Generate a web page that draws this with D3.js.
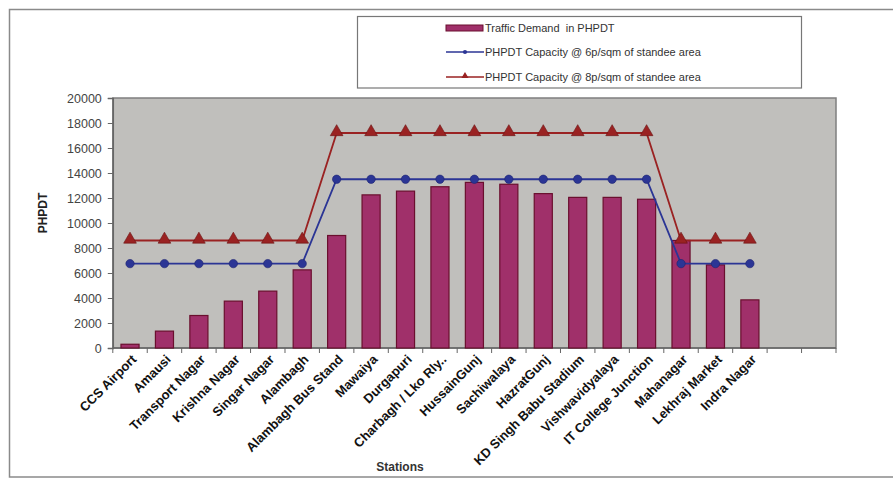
<!DOCTYPE html>
<html>
<head>
<meta charset="utf-8">
<script src="https://cdn.jsdelivr.net/npm/d3@7"></script>
<style>
  html, body { margin: 0; padding: 0; background: #ffffff; }
  svg { display: block; font-family: "Liberation Sans", Arial, sans-serif; }
</style>
</head>
<body>
<svg id="chart" width="893" height="479"></svg>
<script>
// ---------- data ----------
const stations = ["CCS Airport", "Amausi", "Transport Nagar", "Krishna Nagar", "Singar Nagar",
  "Alambagh", "Alambagh Bus Stand", "Mawaiya", "Durgapuri", "Charbagh / Lko Rly..",
  "HussainGunj", "Sachiwalaya", "HazratGunj", "KD Singh Babu Stadium", "Vishwavidyalaya",
  "IT College Junction", "Mahanagar", "Lekhraj Market", "Indra Nagar"];
const emptySlots = ["_blank1", "_blank2"];
const demand = [300, 1350, 2600, 3750, 4550, 6250, 9000, 12250, 12550, 12900,
  13250, 13100, 12350, 12050, 12050, 11900, 8600, 6650, 3850];
const capacity6 = [6750, 6750, 6750, 6750, 6750, 6750, 13500, 13500, 13500, 13500,
  13500, 13500, 13500, 13500, 13500, 13500, 6750, 6750, 6750];
const capacity8 = [8600, 8600, 8600, 8600, 8600, 8600, 17200, 17200, 17200, 17200,
  17200, 17200, 17200, 17200, 17200, 17200, 8600, 8600, 8600];
const yTicks = [0, 2000, 4000, 6000, 8000, 10000, 12000, 14000, 16000, 18000, 20000];
const legendLabels = ["Traffic Demand  in PHPDT",
  "PHPDT Capacity @ 6p/sqm of standee area",
  "PHPDT Capacity @ 8p/sqm of standee area"];
const yTitle = "PHPDT";
const xTitle = "Stations";

// ---------- layout ----------
const svg = d3.select("#chart");
const plot = { left: 112.8, right: 836, top: 98, bottom: 348 };
const colors = { bar: "#a0306a", barStroke: "#6a0f2e", blue: "#2b3595", red: "#9a2222",
  plotBg: "#c0bfbc", plotBorder: "#7f7f7f", frame: "#8a8a8a" };

// outer frame
svg.append("rect").attr("x", 9.5).attr("y", 9.5).attr("width", 893).attr("height", 467.5)
  .attr("fill", "none").attr("stroke", colors.frame).attr("stroke-width", 1.5);

const x = d3.scaleBand().domain(stations.concat(emptySlots)).range([plot.left, plot.right]).padding(0);
const y = d3.scaleLinear().domain([0, 20000]).range([plot.bottom, plot.top]);
const barW = x.bandwidth() * 0.525;
const cx = s => x(s) + x.bandwidth() / 2;

// plot area
svg.append("rect").attr("x", plot.left).attr("y", plot.top)
  .attr("width", plot.right - plot.left).attr("height", plot.bottom - plot.top)
  .attr("fill", colors.plotBg).attr("stroke", colors.plotBorder).attr("stroke-width", 1.5);

// y axis
const yAxis = d3.axisLeft(y).tickValues(yTicks).tickSize(5).tickPadding(6).tickFormat(d3.format("d"));
const gy = svg.append("g").attr("transform", `translate(${plot.left},0)`).call(yAxis);
gy.select(".domain").attr("stroke", "#666").attr("stroke-width", 1.5);
gy.selectAll(".tick line").attr("stroke", "#666");
gy.selectAll(".tick text").attr("font-size", 12.5).attr("fill", "#444")
  .attr("font-family", "Liberation Sans, Arial, sans-serif");

// x axis (ticks on category boundaries)
const gx = svg.append("g").attr("transform", `translate(0,${plot.bottom})`);
gx.append("line").attr("x1", plot.left).attr("x2", plot.right).attr("y1", 0).attr("y2", 0)
  .attr("stroke", "#666").attr("stroke-width", 1.5);
const boundaries = x.domain().map(d => x(d)).concat([plot.right]);
gx.selectAll("line.tk").data(boundaries).enter().append("line").attr("class", "tk")
  .attr("x1", d => d).attr("x2", d => d).attr("y1", 0).attr("y2", 5).attr("stroke", "#666");
gx.selectAll("text.lbl").data(stations).enter().append("text").attr("class", "lbl")
  .attr("transform", d => `translate(${cx(d) + 4},${9}) rotate(-45)`)
  .attr("text-anchor", "end").attr("dy", "0.35em")
  .attr("font-size", 13).attr("font-weight", "bold").attr("fill", "#111")
  .text(d => d);

// bars
svg.append("g").selectAll("rect").data(stations).enter().append("rect")
  .attr("x", (d) => cx(d) - barW / 2)
  .attr("y", (d, i) => y(demand[i]))
  .attr("width", barW)
  .attr("height", (d, i) => plot.bottom - y(demand[i]))
  .attr("fill", colors.bar).attr("stroke", colors.barStroke).attr("stroke-width", 1.2);

// lines
const line = vals => d3.line().x((d, i) => cx(stations[i])).y(d => y(d))(vals);
svg.append("path").attr("d", line(capacity8)).attr("fill", "none").attr("stroke", colors.red).attr("stroke-width", 1.8);
svg.append("path").attr("d", line(capacity6)).attr("fill", "none").attr("stroke", colors.blue).attr("stroke-width", 1.8);
const tri = d3.symbol().type(d3.symbolTriangle).size(70);
const dot = d3.symbol().type(d3.symbolCircle).size(55);
svg.append("g").selectAll("path").data(capacity8).enter().append("path")
  .attr("d", tri).attr("transform", (d, i) => `translate(${cx(stations[i])},${y(d) - 1})`)
  .attr("fill", colors.red).attr("stroke", "#6a1010").attr("stroke-width", 0.6);
svg.append("g").selectAll("path").data(capacity6).enter().append("path")
  .attr("d", dot).attr("transform", (d, i) => `translate(${cx(stations[i])},${y(d)})`)
  .attr("fill", colors.blue).attr("stroke", "#1c2470").attr("stroke-width", 0.6);

// axis titles
svg.append("text").attr("transform", `translate(47,${(plot.top + plot.bottom) / 2 - 10}) rotate(-90)`)
  .attr("text-anchor", "middle").attr("font-size", 12).attr("font-weight", "bold").attr("fill", "#222")
  .text(yTitle);
svg.append("text").attr("x", 400).attr("y", 471).attr("text-anchor", "middle")
  .attr("font-size", 12).attr("font-weight", "bold").attr("fill", "#333").text(xTitle);

// legend
const lg = svg.append("g");
lg.append("rect").attr("x", 357.5).attr("y", 16.5).attr("width", 444).attr("height", 71.5)
  .attr("fill", "#fff").attr("stroke", "#777").attr("stroke-width", 1.2);
const ly = [28, 52, 77];
lg.append("rect").attr("x", 446).attr("y", ly[0] - 3).attr("width", 37).attr("height", 6)
  .attr("fill", colors.bar).attr("stroke", colors.barStroke).attr("stroke-width", 1);
lg.append("line").attr("x1", 446).attr("x2", 484).attr("y1", ly[1]).attr("y2", ly[1]).attr("stroke", colors.blue).attr("stroke-width", 1.5);
lg.append("path").attr("d", d3.symbol().type(d3.symbolCircle).size(14)).attr("transform", `translate(465,${ly[1]})`).attr("fill", colors.blue);
lg.append("line").attr("x1", 446).attr("x2", 484).attr("y1", ly[2]).attr("y2", ly[2]).attr("stroke", colors.red).attr("stroke-width", 1.5);
lg.append("path").attr("d", d3.symbol().type(d3.symbolTriangle).size(22)).attr("transform", `translate(465,${ly[2] - 1})`).attr("fill", colors.red);
lg.selectAll("text").data(legendLabels).enter().append("text")
  .attr("x", 485).attr("y", (d, i) => ly[i]).attr("dy", "0.35em")
  .attr("font-size", 11).attr("fill", "#333").style("white-space", "pre")
  .text(d => d);
</script>
</body>
</html>
